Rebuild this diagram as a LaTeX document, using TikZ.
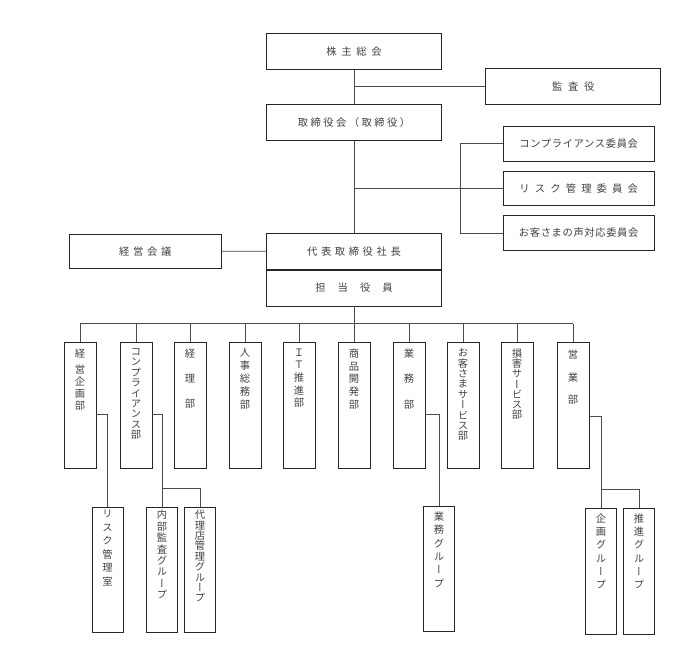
\documentclass[tikz,border=0pt]{standalone}
\usepackage{fontspec}
\setmainfont{Noto Sans CJK JP}
\newfontfamily\tatefont[RawFeature=+vert]{Noto Sans CJK JP}
\usetikzlibrary{positioning}
\newcommand{\ls}[2]{{\addfontfeature{LetterSpace=#1}#2}}
\tikzset{
  yoko/.style={draw=black!85, line width=0.8pt, minimum width=175pt, minimum height=36pt,
    inner sep=0pt, text=black!75, font=\fontsize{10.3}{12}\selectfont},
  iinkai/.style={yoko, minimum width=151pt, minimum height=34.5pt},
  tatebox/.style={draw=black!85, line width=0.8pt, minimum width=32pt, minimum height=126pt, inner sep=0pt},
  subbox/.style={tatebox, minimum width=31pt, minimum height=125pt},
  tate/.style={inner sep=0pt, align=center, text=black!75, font=\tatefont\fontsize{10.3}{#1}\selectfont},
  tate/.default=10.4,
  sen/.style={draw=black!70, line width=0.8pt}
}

\begin{document}
\begin{tikzpicture}[x=1pt,y=-1pt]
\useasboundingbox (0,0) rectangle (695,665);
\coordinate (BUS) at (0,323.5);
% 株主総会
\node[yoko] (kabu) at (354,51.3) {\ls{46}{株主総会}};
\node[yoko] (kansa) at (573.2,86.3) {\ls{55}{監査役}};
\node[yoko] (tori) at (354,122.2) {\ls{24}{取締役会（取締役）}};
\draw[sen] (kabu) -- (tori);
\draw[sen] (kansa) -- (kansa -| kabu);
% 委員会
\node[iinkai] (compI) at (578.7,143.7) {\ls{6}{コンプライアンス委員会}};
\node[iinkai] (riskI) at (578.7,188.2) {\ls{50}{リスク管理委員会}};
\node[iinkai] (koeI) at (578.7,233) {\ls{6}{お客さまの声対応委員会}};
\draw[sen] (riskI) -- (riskI -| tori);
\draw[sen] (compI.west) -- ++(-42,0) |- (koeI.west);
% 代表取締役社長
\node[yoko] (daihyo) at (354,251.2) {\ls{35}{代表取締役社長}};
\node[yoko, below=0pt of daihyo] (tanto) {\ls{117}{担当役員}};
\node[yoko, minimum width=151.7pt, minimum height=34.7pt] (keiei) at (145.2,251.3) {\ls{36}{経営会議}};
\draw[sen] (tori) -- (daihyo);
\draw[sen] (keiei) -- (daihyo);
\draw[sen] (tanto) -- (tanto |- BUS);
% 部
\node[tatebox] (kikakubu) at (80,405.5) {};
\node[tate=11.8, below=6.2pt of kikakubu.north] (kikakubu-t) {経\\[4.9pt]営\\企\\画\\部};
\node[tatebox] (compbu) at (136,405.5) {};
\node[tate, below=6.2pt of compbu.north] (compbu-t) {コ\\ン\\プ\\ラ\\イ\\ア\\ン\\ス\\部};
\node[tatebox] (keiribu) at (190,405.5) {};
\node[tate=25, below=6.2pt of keiribu.north] (keiribu-t) {経\\理\\部};
\node[tatebox] (jinjibu) at (245,405.5) {};
\node[tate=12.9, below=6.2pt of jinjibu.north] (jinjibu-t) {人\\事\\総\\務\\部};
\node[tatebox] (itbu) at (299,405.5) {};
\node[tate=12.7, below=6.2pt of itbu.north] (itbu-t) {Ｉ\\Ｔ\\推\\進\\部};
\node[tatebox] (shohinbu) at (354,405.5) {};
\node[tate=12.9, below=6.2pt of shohinbu.north] (shohinbu-t) {商\\品\\開\\発\\部};
\node[tatebox] (gyomubu) at (409,405.5) {};
\node[tate=25.8, below=6.2pt of gyomubu.north] (gyomubu-t) {業\\務\\部};
\node[tatebox] (servicebu) at (463,405.5) {};
\node[tate, below=6.2pt of servicebu.north] (servicebu-t) {お\\客\\さ\\ま\\サ\\ー\\ビ\\ス\\部};
\node[tatebox] (songaibu) at (517,405.5) {};
\node[tate=10.3, below=6.2pt of songaibu.north] (songaibu-t) {損\\害\\サ\\ー\\ビ\\ス\\部};
\node[tatebox] (eigyobu) at (573,405.5) {};
\node[tate=22.5, below=8pt of eigyobu.north] (eigyobu-t) {営\\業\\部};
\draw[sen] (kikakubu |- BUS) -- (eigyobu |- BUS);
\draw[sen] (kikakubu) -- (kikakubu |- BUS);
\draw[sen] (compbu) -- (compbu |- BUS);
\draw[sen] (keiribu) -- (keiribu |- BUS);
\draw[sen] (jinjibu) -- (jinjibu |- BUS);
\draw[sen] (itbu) -- (itbu |- BUS);
\draw[sen] (shohinbu) -- (shohinbu |- BUS);
\draw[sen] (gyomubu) -- (gyomubu |- BUS);
\draw[sen] (servicebu) -- (servicebu |- BUS);
\draw[sen] (songaibu) -- (songaibu |- BUS);
\draw[sen] (eigyobu) -- (eigyobu |- BUS);
% グループ
\node[subbox] (riskshitsu) at (107.5,569.5) {};
\node[tate=13.5, below=3.4pt of riskshitsu.north] (riskshitsu-t) {リ\\ス\\ク\\管\\理\\室};
\node[subbox] (naibu) at (162,569.5) {};
\node[tate=11.4, below=3.4pt of naibu.north] (naibu-t) {内\\部\\監\\査\\グ\\ル\\ー\\プ};
\node[subbox] (dairiten) at (200,569.5) {};
\node[tate, below=3.4pt of dairiten.north] (dairiten-t) {代\\理\\店\\管\\理\\グ\\ル\\ー\\プ};
\node[subbox] (gyomug) at (439,568.5) {};
\node[tate=13.3, below=6.1pt of gyomug.north] (gyomug-t) {業\\務\\グ\\ル\\ー\\プ};
\node[subbox, minimum height=126pt] (kikakug) at (601,571) {};
\node[tate=13.3, below=5.7pt of kikakug.north] (kikakug-t) {企\\画\\グ\\ル\\ー\\プ};
\node[subbox, minimum height=126pt] (suishing) at (639,571) {};
\node[tate=13.3, below=5.7pt of suishing.north] (suishing-t) {推\\進\\グ\\ル\\ー\\プ};
\draw[sen] ([yshift=-9pt]kikakubu.east) -| (riskshitsu.north);
\draw[sen] ([yshift=-9pt]compbu.east) -| (naibu.north);
\draw[sen] (dairiten.north) -- ++(0,-18.7) -| (naibu.north);
\draw[sen] ([yshift=-9pt]gyomubu.east) -| (gyomug.north);
\draw[sen] ([yshift=-10.5pt]eigyobu.east) -| (kikakug.north);
\draw[sen] (suishing.north) -- ++(0,-18.7) -| (kikakug.north);
\end{tikzpicture}
\end{document}
